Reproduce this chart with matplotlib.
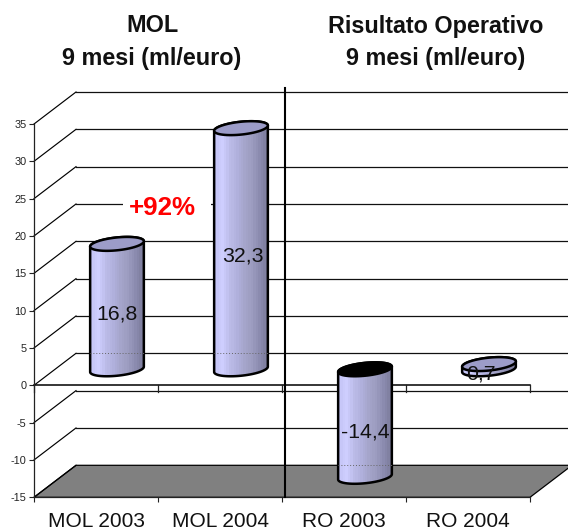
import numpy as np
import matplotlib
matplotlib.use("Agg")
import matplotlib.pyplot as plt
from matplotlib.patches import Polygon, Rectangle
from matplotlib.colors import LinearSegmentedColormap

categories = ["MOL 2003", "MOL 2004", "RO 2003", "RO 2004"]
values = [16.8, 32.3, -14.4, 0.7]
value_labels = ["16,8", "32,3", "-14,4", "0,7"]
yticks = [-15, -10, -5, 0, 5, 10, 15, 20, 25, 30, 35]
title_left = ["MOL", "9 mesi (ml/euro)"]
title_right = ["Risultato Operativo", "9 mesi (ml/euro)"]
annotation = "+92%"

W, H = 568, 532
plt.rcParams["font.family"] = ["Liberation Sans", "DejaVu Sans"]
fig = plt.figure(figsize=(W / 100, H / 100), dpi=100, facecolor="white")
L, R, T, B = 34, 530, 124, 497.3
ax = fig.add_axes([L / W, 1 - B / H, (R - L) / W, (B - T) / H])
ax.set_xlim(0, 4)
ax.set_ylim(-15, 35)
ux = (R - L) / 4
uy = (B - T) / 50
DX, DY = 42 / ux, 32 / uy  # depth of the 3D box in data units

for s in ("top", "right"):
    ax.spines[s].set_visible(False)
for s in ("left", "bottom"):
    ax.spines[s].set_linewidth(0.9)
    ax.spines[s].set_color("#222222")
ax.set_yticks(yticks)
ax.set_yticklabels([str(v) for v in yticks], fontsize=7.8, color="#222222")
ax.set_xticks(range(5))
ax.set_xticklabels([""] * 5)
ax.tick_params(axis="both", length=3.8, width=0.8, color="#222222", pad=1.5)
ax.patch.set_visible(False)

# floor
ax.add_patch(Polygon([(0, -15), (DX, -15 + DY), (4 + DX, -15 + DY), (4, -15)],
                     closed=True, fc="#808080", ec="black", lw=0.9, zorder=1, clip_on=False))
# grid: side walls and back wall
for v in yticks:
    ax.plot([0, DX], [v, v + DY], color="black", lw=0.85, zorder=1.5, clip_on=False)
    if v > -15:
        ax.plot([DX, 4 + DX], [v + DY, v + DY], color="#111111", lw=0.9, zorder=1.5, clip_on=False)
# zero plane front edge with ticks
ax.plot([0, 4], [0, 0], color="black", lw=1.1, zorder=2, clip_on=False)
for x in range(5):
    ax.plot([x, x], [0, -0.9], color="#222222", lw=0.9, zorder=2, clip_on=False)

A, Bb, TH = 27.0, 6.4, np.deg2rad(6)
cmap = LinearSegmentedColormap.from_list(
    "cyl", ["#c4c4f6", "#cfcfff", "#bcbce8", "#b0b0dc", "#a6a6cc", "#9c9cc0", "#8c8cb0", "#7c7c9c"])


def ell(xc, yc, t):
    px = A * np.cos(t) * np.cos(TH) - Bb * np.sin(t) * np.sin(TH)
    py = A * np.cos(t) * np.sin(TH) + Bb * np.sin(t) * np.cos(TH)
    return np.column_stack([xc + px / ux, yc + py / uy])


t_full = np.linspace(0, 2 * np.pi, 120)
t_up = np.linspace(0, np.pi, 60)
t_lo = np.linspace(np.pi, 2 * np.pi, 60)
grad = np.linspace(0, 1, 22).reshape(1, -1)

for i, v in enumerate(values):
    xc = i + 0.5 + DX / 2
    y0 = DY / 2
    hi = y0 + max(v, 0)
    lo = y0 + min(v, 0)
    body = np.vstack([ell(xc, lo, t_lo), ell(xc, hi, t_up)])
    poly = Polygon(body, closed=True, fc="none", ec="black", lw=1.8, zorder=5,
                   clip_on=False, joinstyle="round", transform=ax.transData)
    im = ax.imshow(grad, cmap=cmap, aspect="auto", zorder=4, interpolation="nearest",
                   extent=[xc - A / ux, xc + A / ux, lo - 8 / uy, hi + 8 / uy])
    clip = Polygon(body, closed=True, transform=ax.transData)
    im.set_clip_path(clip)
    ax.add_patch(poly)
    cap = "black" if v < 0 else "#9c9cc8"
    ax.add_patch(Polygon(ell(xc, hi, t_full), closed=True, fc=cap, ec="black", lw=1.8,
                         zorder=6, clip_on=False))
    # faint show-through of the floor/back lines
    for gv in (0, -15):
        if lo < gv + DY < hi:
            ax.plot([xc - A / ux, xc + A / ux], [gv + DY] * 2, color="#666666", lw=0.7,
                    ls=(0, (1, 2)), zorder=5.5)
    xoff = -8 if i == 3 else (2 if i == 1 else 0)
    yoff = -9 if i == 2 else -7
    ax.annotate(value_labels[i], (xc, y0 + v / 2), xytext=(xoff * 0.72, yoff * 0.72),
                textcoords="offset points", ha="center", va="center",
                fontsize=15.3, color="#111111", zorder=8, annotation_clip=False)

ax.set_xlim(0, 4)
ax.set_ylim(-15, 35)

# divider
ax.plot([2 + 3 / ux, 2 + 3 / ux], [-15, 35 + 36 / uy], color="black", lw=1.5, zorder=7, clip_on=False)

# category labels
for i, c in enumerate(categories):
    ax.annotate(c, (i + 0.5, -15), xytext=(0, -30 * 0.72), textcoords="offset points",
                ha="center", va="baseline", fontsize=15.0, color="#111111", annotation_clip=False)

# white box that interrupts the back grid line behind the annotation
ax.add_patch(Rectangle((123 / W, 1 - 221 / H), 88 / W, 26 / H, transform=fig.transFigure,
                       fc="white", ec="none", zorder=2.5, clip_on=False))
fig.text(162 / W, 1 - 208 / H, annotation, ha="center", va="center", fontsize=18.7,
         fontweight="bold", color="red", zorder=3)

for txt, y in zip(title_left, (25, 58)):
    fig.text(152 / W, 1 - y / H, txt, ha="center", va="center", fontsize=16.8, fontweight="bold", color="#111111")
for txt, y in zip(title_right, (26, 58)):
    fig.text(436 / W, 1 - y / H, txt, ha="center", va="center", fontsize=16.8, fontweight="bold", color="#111111")

fig.savefig("out.png", dpi=100)
